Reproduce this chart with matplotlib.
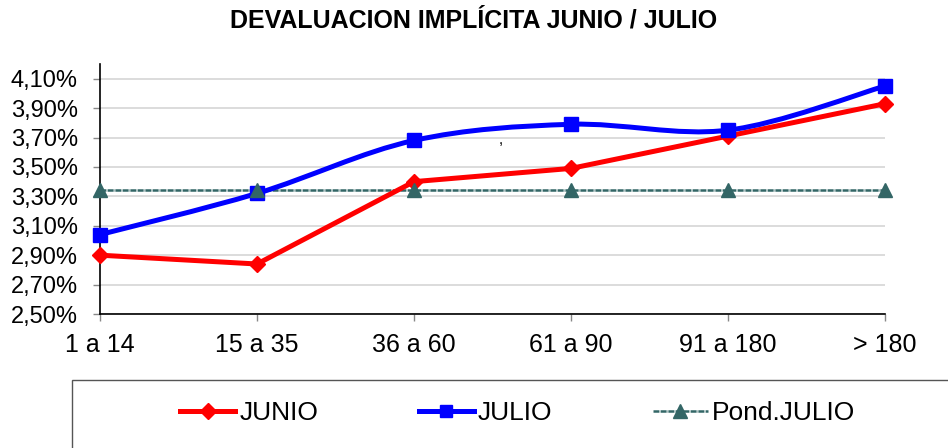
import matplotlib
matplotlib.use("Agg")
import matplotlib.pyplot as plt
import numpy as np
from matplotlib.path import Path
from matplotlib.patches import PathPatch, Rectangle
from matplotlib.lines import Line2D
from matplotlib.ticker import FuncFormatter

plt.rcParams['font.family'] = ['Liberation Sans', 'DejaVu Sans']

categories = ["1 a 14", "15 a 35", "36 a 60", "61 a 90", "91 a 180", "> 180"]
junio = [2.90, 2.84, 3.40, 3.49, 3.71, 3.93]
julio = [3.04, 3.32, 3.68, 3.79, 3.75, 4.05]
pond_julio = [3.34, 3.34, 3.34, 3.34, 3.34, 3.34]
title = "DEVALUACION IMPLÍCITA JUNIO / JULIO"

W, H = 948, 448
fig = plt.figure(figsize=(W / 100, H / 100), dpi=100)
ax = fig.add_axes([100 / W, 1 - 314 / H, (885 - 100) / W, (314 - 64) / H])

x = np.arange(len(categories))

red = "#ff0000"
blue = "#0000ff"
teal = "#336666"
gapc = "#a9c0c0"

ax.set_ylim(2.5, 4.2)
ax.set_xlim(0, len(categories) - 1)
ax.set_yticks(np.arange(2.5, 4.11, 0.2))
ax.grid(axis='y', color='#d9d9d9', lw=1.3, zorder=0)
ax.set_axisbelow(True)

# Pond.JULIO: teal dashed line with light teal gaps
ax.plot(x, pond_julio, color=teal, gapcolor=gapc, lw=1.8, ls=(0, (2.2, 0.8)), zorder=2)
ax.plot(x, pond_julio, ls='none', marker='^', ms=10, color=teal, zorder=5, clip_on=False)

# JUNIO straight line
ax.plot(x, junio, color=red, lw=3.6, zorder=3, marker='D', ms=8.5, mec=red, mfc=red, clip_on=False)

# JULIO smoothed (Catmull-Rom Bezier through data points)
pts = np.column_stack([x, julio]).astype(float)
verts = [tuple(pts[0])]
codes = [Path.MOVETO]
n = len(pts)
for i in range(n - 1):
    p0 = pts[i - 1] if i > 0 else pts[i]
    p1 = pts[i]
    p2 = pts[i + 1]
    p3 = pts[i + 2] if i + 2 < n else pts[i + 1]
    c1 = p1 + (p2 - p0) / 6.0
    c2 = p2 - (p3 - p1) / 6.0
    verts += [tuple(c1), tuple(c2), tuple(p2)]
    codes += [Path.CURVE4] * 3
ax.add_patch(PathPatch(Path(verts, codes), facecolor='none', edgecolor=blue, lw=3.6, zorder=4, clip_on=False))
ax.plot(x, julio, ls='none', marker='s', ms=10.5, color=blue, zorder=4.5, clip_on=False)

# axes styling
for s in ['top', 'right']:
    ax.spines[s].set_visible(False)
ax.spines['left'].set_color('black')
ax.spines['bottom'].set_color('black')
ax.spines['left'].set_linewidth(1.2)
ax.spines['bottom'].set_linewidth(1.2)
ax.set_xticks(x)
ax.set_xticklabels(categories)
ax.yaxis.set_major_formatter(FuncFormatter(lambda v, p: f"{v:.2f}%".replace('.', ',')))
ax.tick_params(axis='both', color='#888888', length=5, width=1)
ax.tick_params(axis='x', pad=9, labelsize=18)
ax.tick_params(axis='y', pad=11, labelsize=17)

fig.text(474 / W, 1 - 20 / H, title, ha='center', va='center', fontsize=18, fontweight='bold')
fig.text(501 / W, 1 - 140 / H, ",", ha='center', va='center', fontsize=11)

# legend box
fig.add_artist(Rectangle((72 / W, -0.2), 2, 1 - 380 / H + 0.2, transform=fig.transFigure,
                         fill=False, edgecolor='#555555', lw=1.0))

h1 = Line2D([], [], color=red, lw=3.6, marker='D', ms=8)
h2 = Line2D([], [], color=blue, lw=3.6, marker='s', ms=9)
h3 = Line2D([], [], color=teal, gapcolor=gapc, lw=1.8, ls=(0, (2.2, 0.8)), marker='^', ms=10)
fig.legend([h1, h2, h3], ["JUNIO", "JULIO", "Pond.JULIO"],
           loc='center left', bbox_to_anchor=(180 / W, 1 - 413 / H), ncol=3,
           frameon=False, fontsize=19, handlelength=2.1, handletextpad=0.15,
           columnspacing=3.8, borderpad=0, borderaxespad=0)

fig.savefig("out.png", dpi=100)
